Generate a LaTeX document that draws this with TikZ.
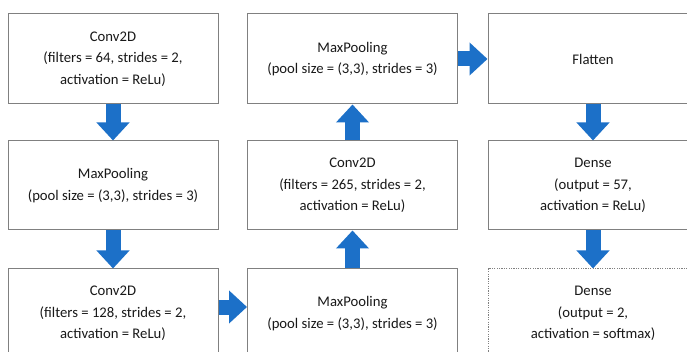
\documentclass[tikz,border=0pt]{standalone}
\usepackage{fontspec}
\setmainfont{Carlito}
\usetikzlibrary{arrows.meta}
\definecolor{arrowblue}{RGB}{28,112,200}
\definecolor{boxgray}{RGB}{128,128,128}
\definecolor{txtgray}{RGB}{25,25,25}
\begin{document}
\begin{tikzpicture}[x=1pt,y=-1pt,
  layerbox/.style={draw=boxgray, line width=1pt, fill=white, rectangle,
    minimum width=210pt, minimum height=89pt, align=center, inner sep=0pt,
    text=txtgray, font=\fontsize{14.7}{21.5}\selectfont},
  dottedbox/.style={layerbox, dash pattern=on 1.2pt off 1.2pt},
  flow/.style={draw=arrowblue, line width=15pt, -{Triangle[width=32pt,length=18pt]}}]
\useasboundingbox (0,0) rectangle (687,352);
\clip (0,0) rectangle (687,352);
\fill[white] (0,0) rectangle (687,352);

\node[layerbox, minimum height=90pt] (c1) at (113,59) {Conv2D\\(filters = 64, strides = 2,\\activation = ReLu)};
\node[layerbox] (p1) at (113,185.5) {MaxPooling\\(pool size = (3,3), strides = 3)};
\node[layerbox] (c2) at (113,313.5) {Conv2D\\(filters = 128, strides = 2,\\activation = ReLu)};
\node[layerbox] (p2) at (352.5,313.5) {MaxPooling\\(pool size = (3,3), strides = 3)};
\node[layerbox] (c3) at (352.5,185.5) {Conv2D\\(filters = 265, strides = 2,\\activation = ReLu)};
\node[layerbox, minimum height=90pt] (p3) at (352.5,59) {MaxPooling\\(pool size = (3,3), strides = 3)};
\node[layerbox, minimum height=90pt] (fl) at (593,59) {Flatten};
\node[layerbox] (d1) at (593,185.5) {Dense\\(output = 57,\\activation = ReLu)};
\node[dottedbox] (d2) at (593,313.5) {Dense\\(output = 2,\\activation = softmax)};

\draw[flow] (c1.south) -- (p1.north);
\draw[flow] (p1.south) -- (c2.north);
\draw[flow] ([yshift=6.5pt]c2.east) -- ([yshift=6.5pt]p2.west);
\draw[flow] (p2.north) -- (c3.south);
\draw[flow] (c3.north) -- (p3.south);
\draw[flow] (p3.east) -- (fl.west);
\draw[flow] (fl.south) -- (d1.north);
\draw[flow] (d1.south) -- (d2.north);
\end{tikzpicture}
\end{document}
